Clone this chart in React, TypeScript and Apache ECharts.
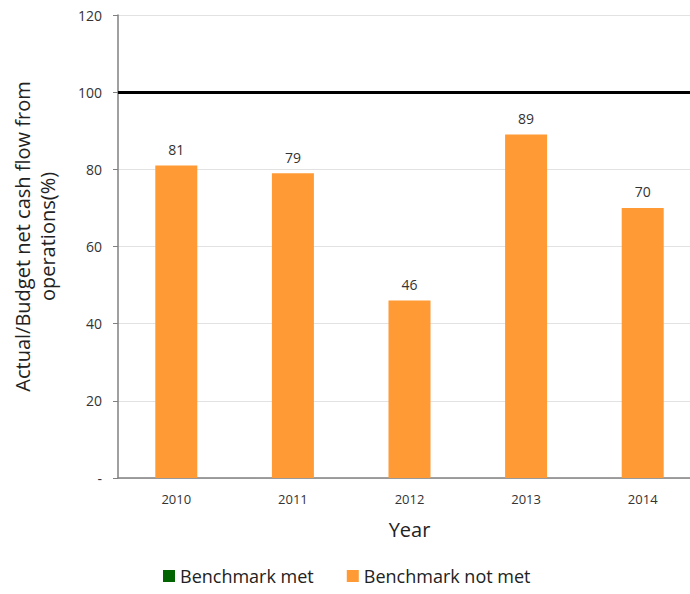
import React, { useEffect, useRef } from "react";
import * as echarts from "echarts";

const years = ["2010", "2011", "2012", "2013", "2014"];
const notMetValues = [81, 79, 46, 89, 70];
const metValues: (number | string)[] = ["-", "-", "-", "-", "-"];
const benchmark = 100;
const yTicks = [0, 20, 40, 60, 80, 100, 120];

const FONT = "'Open Sans', 'DejaVu Sans', sans-serif";

export default function App() {
  const ref = useRef<HTMLDivElement>(null);
  useEffect(() => {
    if (!ref.current) return;
    const chart = echarts.init(ref.current, undefined, { renderer: "svg" });
    chart.setOption({
      animation: false,
      backgroundColor: "#ffffff",
      textStyle: { fontFamily: FONT },
      grid: {
        left: 118,
        top: 15,
        width: 583,
        height: 463,
        containLabel: false,
        outerBoundsMode: "none",
      },
      legend: {
        bottom: 4,
        left: 158,
        icon: "rect",
        itemWidth: 12,
        itemHeight: 12,
        itemGap: 33,
        textStyle: { fontSize: 18, color: "#222", fontFamily: FONT },
        data: ["Benchmark met", "Benchmark not met"],
      },
      xAxis: {
        type: "category",
        data: years,
        name: "Year",
        nameLocation: "middle",
        nameGap: 41,
        nameTextStyle: { fontSize: 20, color: "#222", fontFamily: FONT },
        axisLine: { lineStyle: { color: "#808080", width: 1.5 } },
        axisTick: { show: false },
        axisLabel: { fontSize: 13, color: "#333", margin: 14, fontFamily: FONT },
      },
      yAxis: {
        type: "value",
        min: yTicks[0],
        max: yTicks[yTicks.length - 1],
        interval: 20,
        name: "Actual/Budget net cash flow from\noperations(%)",
        nameLocation: "middle",
        nameGap: 58,
        nameTextStyle: {
          fontSize: 20,
          color: "#222",
          fontFamily: FONT,
          lineHeight: 25,
          padding: [0, 0, 0, 20],
        },
        axisLine: { show: true, lineStyle: { color: "#808080", width: 1.5 } },
        axisTick: { show: true, length: 5, lineStyle: { color: "#808080" } },
        axisLabel: {
          fontSize: 14,
          color: "#333",
          margin: 16,
          fontFamily: FONT,
          formatter: (v: number) => (v === 0 ? "-" : String(v)),
        },
        splitLine: { lineStyle: { color: "#e2e2e2", width: 1 } },
      },
      series: [
        {
          name: "Benchmark met",
          type: "bar",
          stack: "s",
          data: metValues,
          itemStyle: { color: "#006400" },
          barWidth: 42,
        },
        {
          name: "Benchmark not met",
          type: "bar",
          stack: "s",
          data: notMetValues,
          barWidth: 42,
          itemStyle: { color: "#FF9A35" },
          label: {
            show: true,
            position: "top",
            distance: 9,
            fontSize: 14,
            color: "#333",
            fontFamily: FONT,
          },
          markLine: {
            silent: true,
            symbol: "none",
            label: { show: false },
            lineStyle: { color: "#000", width: 3, type: "solid" },
            data: [{ yAxis: benchmark }],
          },
        },
      ],
    });
    return () => chart.dispose();
  }, []);
  return (
    <div
      ref={ref}
      style={{ position: "fixed", left: 0, top: 0, width: 690, height: 594 }}
    />
  );
}
